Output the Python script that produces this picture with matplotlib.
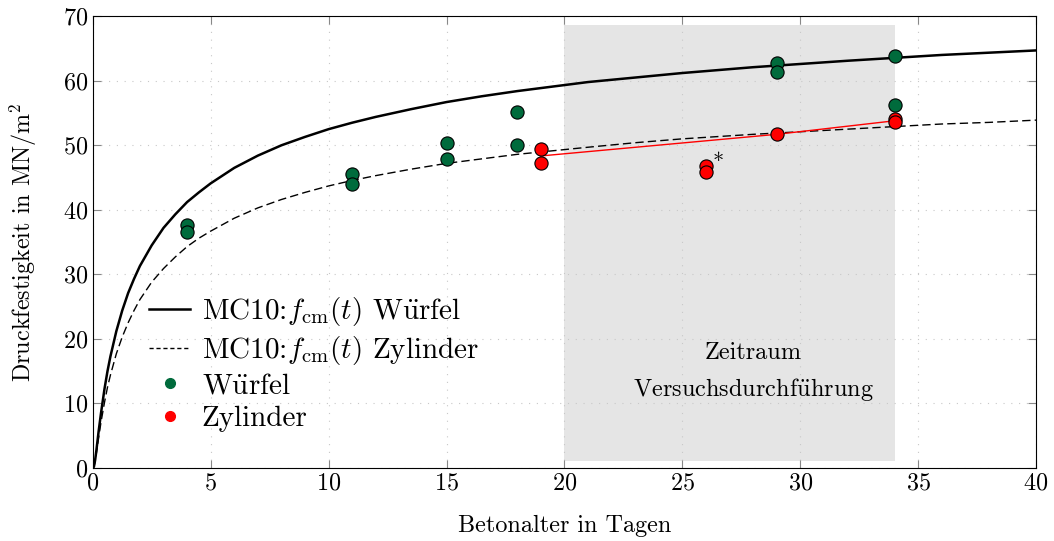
import numpy as np
import matplotlib.pyplot as plt
from matplotlib.lines import Line2D

plt.rcParams['font.family'] = ['cmr10', 'DejaVu Serif']
plt.rcParams['mathtext.fontset'] = 'cm'
plt.rcParams['axes.formatter.use_mathtext'] = True

# MC10 curves
t_curve = [0, 0.05, 0.1, 0.15, 0.25, 0.35, 0.5, 0.625, 0.75, 1, 1.25, 1.5, 1.75,
           2, 2.5, 3, 3.5, 4, 4.5, 5, 6, 7, 8, 9, 10, 11, 12, 13.5, 15, 16.5,
           18, 21, 23, 25, 28, 30, 32, 34, 36, 38, 40]
f_wuerfel = [0, 0.2, 1.2, 2.6, 5.7, 8.5, 12.3, 15.0, 17.3, 21.2, 24.4, 27.1, 29.3,
             31.3, 34.5, 37.2, 39.3, 41.2, 42.7, 44.1, 46.5, 48.4, 50.0, 51.3,
             52.5, 53.5, 54.4, 55.6, 56.7, 57.6, 58.4, 59.8, 60.5, 61.2, 62.1,
             62.6, 63.1, 63.55, 64.0, 64.35, 64.7]
f_zylinder = [0, 0.2, 1.0, 2.2, 4.7, 7.1, 10.2, 12.5, 14.4, 17.7, 20.3, 22.5, 24.4,
              26.1, 28.8, 30.9, 32.7, 34.3, 35.6, 36.7, 38.7, 40.3, 41.6, 42.7,
              43.7, 44.55, 45.3, 46.3, 47.2, 47.9, 48.6, 49.7, 50.4, 51.0, 51.7,
              52.1, 52.5, 52.9, 53.3, 53.55, 53.9]

# measured values
t_w = [4, 4, 11, 11, 15, 15, 18, 18, 29, 29, 34, 34]
f_w = [37.6, 36.6, 45.5, 44.0, 50.3, 47.9, 55.2, 50.1, 62.7, 61.4, 63.8, 56.3]
t_z = [19, 19, 26, 26, 29, 34, 34]
f_z = [49.4, 47.3, 46.8, 45.9, 51.7, 54.0, 53.6]

# mean line of cylinders (without day 26)
t_mean = [19, 29, 34]
f_mean = [48.35, 51.7, 53.8]

green = '#006b3c'
uml = r'$\mathrm{\ddot{u}}$'

fig = plt.figure(figsize=(10.54, 5.41), dpi=100)
ax = fig.add_axes([0.088, 0.135, 0.895, 0.835])

ax.add_patch(plt.Rectangle((20, 1.1), 14, 67.5, color='#e5e5e5', lw=0, zorder=0))
ax.text(28, 17.8, 'Zeitraum', ha='center', va='center', fontsize=17.5)
ax.text(28, 12.2, 'Versuchsdurchf' + uml + 'hrung', ha='center', va='center',
        fontsize=17.5)

ax.plot(t_curve, f_wuerfel, color='k', lw=1.8, zorder=3)
ax.plot(t_curve, f_zylinder, color='k', lw=1.0, ls=(0, (6, 3)), zorder=3)
ax.plot(t_mean, f_mean, color='red', lw=1.0, zorder=3)

ax.plot(t_w, f_w, 'o', color=green, mec='k', mew=0.8, ms=9.5, zorder=4)
ax.plot(t_z, f_z, 'o', color='red', mec='k', mew=0.8, ms=9.5, zorder=4)
ax.text(26.5, 47.4, '*', fontsize=16, ha='center', va='center')

ax.set_xlim(0, 40)
ax.set_ylim(0, 70)
ax.set_xticks(np.arange(0, 41, 5))
ax.set_yticks(np.arange(0, 71, 10))
ax.grid(True, ls=(0, (1, 6)), color='#c8c8c8', lw=0.8)
ax.set_axisbelow(True)
ax.tick_params(direction='in', length=6, color='#888888', labelsize=17.4,
               top=True, right=True)
for s in ax.spines.values():
    s.set_linewidth(0.8)

ax.set_xlabel('Betonalter in Tagen', fontsize=17.4, labelpad=14)
ax.set_ylabel('Druckfestigkeit in MN/m$^2$', fontsize=17.4, labelpad=17)

handles = [
    Line2D([], [], color='k', lw=1.8),
    Line2D([], [], color='k', lw=1.0, ls=(0, (3, 2))),
    Line2D([], [], ls='', marker='o', color=green, ms=7),
    Line2D([], [], ls='', marker='o', color='red', ms=7),
]
labels = [r'MC10:$f_{\mathrm{cm}}(t)$ W$\mathrm{\ddot{u}}$rfel',
          r'MC10:$f_{\mathrm{cm}}(t)$ Zylinder',
          'W' + uml + 'rfel', 'Zylinder']
ax.legend(handles, labels, loc='lower left', bbox_to_anchor=(0.06, 0.08),
          frameon=False, fontsize=21, handlelength=1.4, handletextpad=0.4,
          labelspacing=0.2, borderaxespad=0, borderpad=0)

fig.savefig('out.png', dpi=100)
